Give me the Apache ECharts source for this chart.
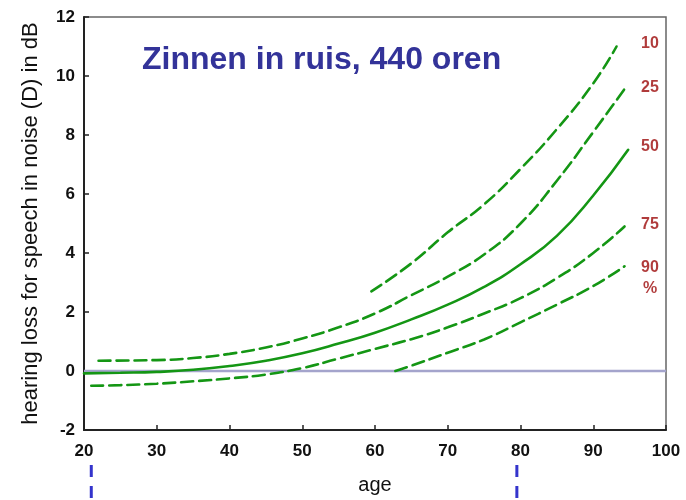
<!DOCTYPE html>
<html><head><meta charset="utf-8">
<script src="https://cdn.jsdelivr.net/npm/echarts@6/dist/echarts.min.js"></script>
<style>html,body{margin:0;padding:0;background:#fff}#c{width:686px;height:500px}</style>
</head><body><div id="c"></div>
<script>
// Data
var title = 'Zinnen in ruis, 440 oren';
var xTicks = [20, 30, 40, 50, 60, 70, 80, 90, 100];
var yTicks = [-2, 0, 2, 4, 6, 8, 10, 12];
var p10 = [[59.5,2.7],[65,3.65],[70,4.7],[75,5.65],[80,6.85],[85,8.2],[90,9.75],[93.2,11.0]];
var p25 = [[22,0.35],[30,0.37],[35,0.44],[40,0.58],[45,0.8],[50,1.1],[55,1.48],[60,1.95],[65,2.57],[70,3.2],[75,3.95],[80,5.0],[85,6.45],[90,8.1],[94.3,9.56]];
var p50 = [[20,-0.08],[25,-0.06],[30,-0.03],[35,0.04],[40,0.17],[45,0.35],[50,0.6],[55,0.93],[60,1.3],[65,1.75],[70,2.25],[75,2.85],[80,3.62],[85,4.58],[90,5.95],[94.8,7.5]];
var p75 = [[21,-0.5],[25,-0.48],[30,-0.43],[35,-0.35],[40,-0.25],[45,-0.12],[50,0.1],[55,0.42],[60,0.75],[65,1.08],[70,1.48],[75,1.95],[80,2.47],[85,3.15],[90,4.0],[94.3,4.9]];
var p90 = [[62.8,0.0],[65,0.18],[70,0.62],[75,1.07],[80,1.65],[85,2.25],[90,2.88],[94.3,3.55]];
var pctLabels = ['10','25','50','75','90','%'];
var pctLabelPos = [[97.8,11.1],[97.8,9.6],[97.8,7.6],[97.8,4.97],[97.8,3.52],[97.8,2.8]];
var markerAges = [21, 79.5];

var green = '#149614';
var dash = [12, 6];
function curve(name, data, solid) {
  return {
    type: 'line', name: name, data: data, smooth: 0.5, showSymbol: false, symbol: 'none',
    lineStyle: { color: green, width: 2.6, type: solid ? 'solid' : dash, cap: 'round' },
    z: 5, silent: true
  };
}
var chart = echarts.init(document.getElementById('c'), null, { renderer: 'canvas' });
var option = {
  animation: false,
  backgroundColor: '#fff',
  title: {
    text: title, left: 137, top: 39,
    textStyle: { fontFamily: 'Liberation Sans', fontWeight: 'bold', fontSize: 32, color: '#333399' }
  },
  grid: { left: 84, right: 20, top: 17, bottom: 67, show: true, borderColor: '#666', borderWidth: 1.5, backgroundColor: 'transparent' },
  xAxis: {
    type: 'value', min: 20, max: 100, interval: 10,
    name: 'age', nameLocation: 'middle', nameGap: 45,
    nameTextStyle: { fontFamily: 'Liberation Sans', fontSize: 20, color: '#111' },
    axisLine: { show: true, onZero: false, lineStyle: { color: '#222', width: 2 } },
    axisTick: { show: true, inside: true, length: 5, lineStyle: { color: '#222', width: 1.5 } },
    axisLabel: { fontFamily: 'Liberation Sans', fontSize: 17, fontWeight: 'bold', color: '#111', margin: 13 },
    splitLine: { show: false }
  },
  yAxis: {
    type: 'value', min: -2, max: 12, interval: 2,
    name: 'hearing loss for speech in noise (D) in dB', nameLocation: 'middle', nameGap: 42, nameRotate: 90,
    nameTextStyle: { fontFamily: 'Liberation Sans', fontSize: 22, color: '#111' },
    axisLine: { show: true, onZero: false, lineStyle: { color: '#222', width: 2 } },
    axisTick: { show: true, inside: true, length: 5, lineStyle: { color: '#222', width: 1.5 } },
    axisLabel: { fontFamily: 'Liberation Sans', fontSize: 17, fontWeight: 'bold', color: '#111', margin: 9 },
    splitLine: { show: false }
  },
  series: [
    {
      type: 'line', data: [[20,0],[100,0]], showSymbol: false, symbol: 'none',
      lineStyle: { color: '#a4a4cc', width: 2.5 }, z: 3, silent: true
    },
    curve('10', p10), curve('25', p25), curve('50', p50, true), curve('75', p75), curve('90', p90),
    {
      type: 'scatter', symbolSize: 0, silent: true, z: 6,
      data: pctLabelPos.map(function (p, i) { return { value: p, label: { formatter: pctLabels[i] } }; }),
      label: { show: true, position: 'inside', fontFamily: 'Liberation Sans', fontWeight: 'bold', fontSize: 16, color: '#9c0a0a' }
    }
  ]
};
chart.setOption(option);
var graphics = markerAges.map(function (a) {
  var px = chart.convertToPixel({ gridIndex: 0 }, [a, -2]);
  return {
    type: 'line', shape: { x1: px[0], y1: 465, x2: px[0], y2: 500 },
    style: { stroke: '#3434cc', lineWidth: 3, lineDash: [12, 9] }, z: 10
  };
});
chart.setOption({ graphic: graphics });
</script></body></html>
